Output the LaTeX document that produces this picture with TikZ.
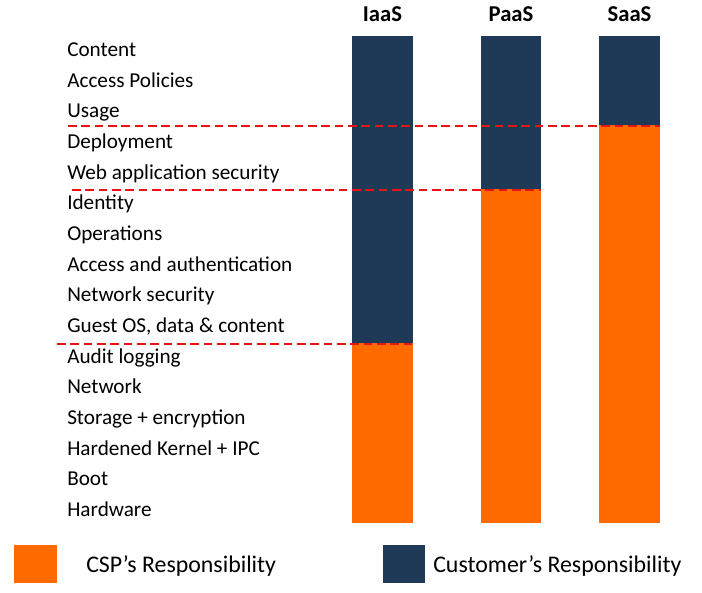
\documentclass[tikz,border=0pt]{standalone}
\usepackage{fontspec}
\setmainfont{Carlito}
\definecolor{navy}{RGB}{31,58,87}
\definecolor{csporange}{RGB}{255,106,0}
\definecolor{dashred}{RGB}{232,20,20}
\begin{document}
\begin{tikzpicture}[x=0.75pt,y=-0.75pt,
  lbl/.style={anchor=base west,inner sep=0pt,font=\fontsize{15.9pt}{18pt}\selectfont},
  hdr/.style={anchor=base,inner sep=0pt,font=\fontsize{17pt}{20pt}\selectfont\bfseries},
  leg/.style={anchor=base west,inner sep=0pt,font=\fontsize{17.9pt}{21pt}\selectfont},
  sep/.style={draw=dashred,line width=1.5pt,dash pattern=on 6.5pt off 3.5pt}]
\useasboundingbox (0,0) rectangle (702,592);
% bars
\fill[navy] (352,36) rectangle (413,343);
\fill[csporange] (352,343) rectangle (413,523);
\fill[navy] (481,36) rectangle (541,189);
\fill[csporange] (481,189) rectangle (541,523);
\fill[navy] (599,36) rectangle (660,125);
\fill[csporange] (599,125) rectangle (660,523);
% headers
\node[hdr] (hI) at (382.5,21.5) {IaaS};
\node[hdr] (hP) at (511,21.5) {PaaS};
\node[hdr] (hS) at (629.5,21.5) {SaaS};
% labels
\foreach \t [count=\i from 0] in {Content,Access Policies,Usage,Deployment,Web application security,Identity,Operations,Access and authentication,Network security,{Guest OS, data \& content},Audit logging,Network,Storage + encryption,Hardened Kernel + IPC,Boot,Hardware}
  \node[lbl] (l\i) at (67,56.5+30.67*\i) {\t};
% separators
\coordinate (d1a) at (68,125.5); \coordinate (d1b) at (660,125.5);
\coordinate (d2a) at (72,189.5); \coordinate (d2b) at (541,189.5);
\coordinate (d3a) at (57,344); \coordinate (d3b) at (413,344);
\draw[sep] (d1a) -- (d1b);
\draw[sep] (d2a) -- (d2b);
\draw[sep] (d3a) -- (d3b);
% legend
\fill[csporange] (14,545) rectangle (57,583);
\node[leg] (csp) at (86,572.5) {CSP’s Responsibility};
\fill[navy] (383,545) rectangle (425,583);
\node[leg] (cust) at (433,572) {Customer’s Responsibility};
\end{tikzpicture}
\end{document}
